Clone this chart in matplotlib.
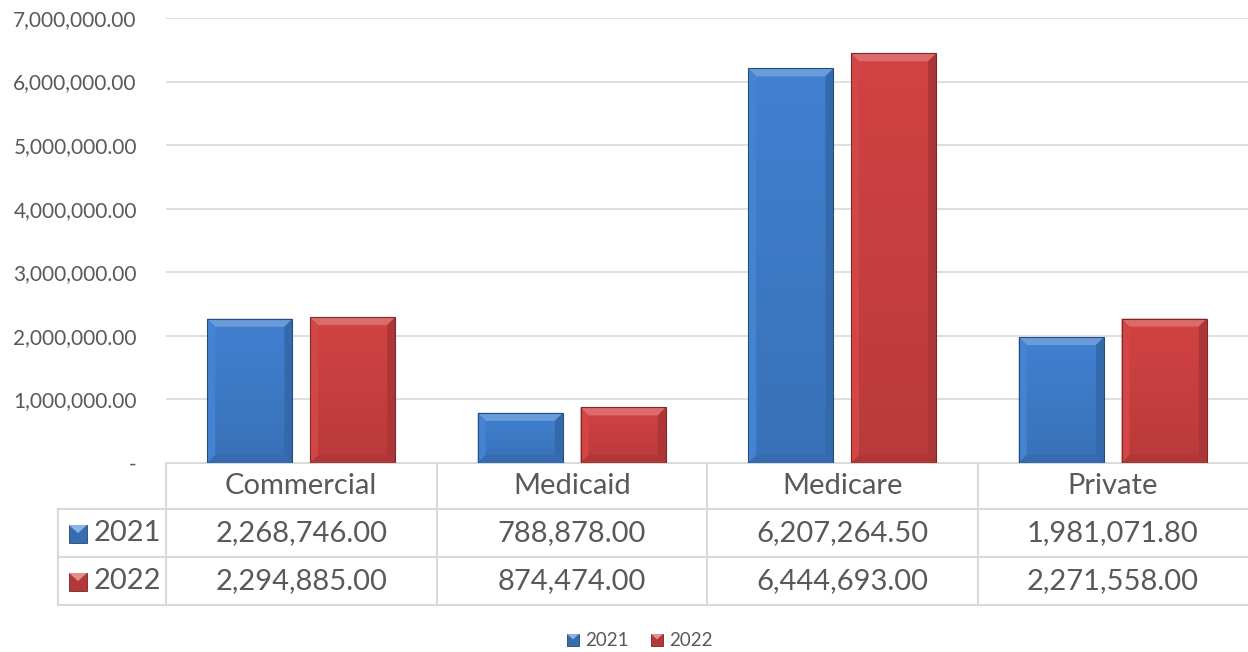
import numpy as np
import matplotlib.pyplot as plt
from matplotlib.patches import Polygon, Rectangle
from matplotlib.colors import to_rgb

# payer categories and yearly totals
categories = ["Commercial", "Medicaid", "Medicare", "Private"]
years = ["2021", "2022"]
vals_2021 = [2268746.00, 788878.00, 6207264.50, 1981071.80]
vals_2022 = [2294885.00, 874474.00, 6444693.00, 2271558.00]
yticks = [0, 1e6, 2e6, 3e6, 4e6, 5e6, 6e6, 7e6]

BLUE = "#4080d0"
RED = "#d24242"
TXT = "#595959"
GRID = "#d9d9d9"

plt.rcParams["font.family"] = ["Lato", "DejaVu Sans"]

W, H = 1248, 652
fig = plt.figure(figsize=(W / 100, H / 100), dpi=100)

# plot area in pixel terms
PL, PR, PT, PB = 166, 1248, 18, 463
ax = fig.add_axes([PL / W, 1 - PB / H, (PR - PL) / W, (PB - PT) / H])

x = np.arange(len(categories))
bw = 0.315
off = 0.19


def shade(c, f):
    r, g, b = to_rgb(c)
    if f > 1:
        return tuple(v + (1 - v) * (f - 1) for v in (r, g, b))
    return (r * f, g * f, b * f)


def bevel_bar(ax, bar, color):
    # soft bevel look: light top edge, darker right/bottom edges
    x0, y0 = bar.get_x(), bar.get_y()
    w, h = bar.get_width(), bar.get_height()
    x1, y1 = x0 + w, y0 + h
    px_x = (ax.get_xlim()[1] - ax.get_xlim()[0]) / ax.bbox.width
    px_y = (ax.get_ylim()[1] - ax.get_ylim()[0]) / ax.bbox.height
    bx, by = min(8 * px_x, w / 3), min(8 * px_y, h / 3)
    # vertical gradient body
    n = 30
    for i in range(n):
        ya = y0 + h * i / n
        yb = y0 + h * (i + 1) / n
        f = 0.88 + 0.12 * (i / (n - 1))
        ax.add_patch(Rectangle((x0, ya), w, yb - ya, facecolor=shade(color, f),
                               edgecolor="none", zorder=3))
    faces = [
        ([(x0, y1), (x1, y1), (x1 - bx, y1 - by), (x0 + bx, y1 - by)], 1.22),
        ([(x0, y0), (x0, y1), (x0 + bx, y1 - by), (x0 + bx, y0 + by)], 1.02),
        ([(x1, y0), (x1, y1), (x1 - bx, y1 - by), (x1 - bx, y0 + by)], 0.82),
        ([(x0, y0), (x1, y0), (x1 - bx, y0 + by), (x0 + bx, y0 + by)], 0.84),
    ]
    for pts, f in faces:
        ax.add_patch(Polygon(pts, closed=True, facecolor=shade(color, f),
                             edgecolor="none", zorder=4))
    ax.add_patch(Rectangle((x0, y0), w, h, facecolor="none",
                           edgecolor=shade(color, 0.6), lw=0.8, zorder=5))


ax.set_xlim(-0.5, len(categories) - 0.5)
ax.set_ylim(0, 7e6)

bars1 = ax.bar(x - off, vals_2021, bw, color="none", zorder=2)
bars2 = ax.bar(x + off, vals_2022, bw, color="none", zorder=2)
fig.canvas.draw()
for b in bars1:
    bevel_bar(ax, b, BLUE)
for b in bars2:
    bevel_bar(ax, b, RED)

ax.set_yticks(yticks)
ax.set_yticklabels(["-" if v == 0 else f"{v:,.2f}" for v in yticks],
                   fontsize=15, color=TXT)
ax.tick_params(axis="y", length=0, pad=21)
ax.set_xticks([])
ax.grid(axis="y", color=GRID, lw=1.2, zorder=0)
for s in ax.spines.values():
    s.set_visible(False)

# data table under the plot, in pixel coordinates
tax = fig.add_axes([0, 0, 1, 1], zorder=-1)
tax.set_xlim(0, W)
tax.set_ylim(H, 0)
tax.axis("off")

rows = [463, 509, 557, 605]
lab_left = 58
colw = (PR - PL) / len(categories)
cols = [PL + i * colw for i in range(len(categories) + 1)]
lc = dict(color=GRID, lw=1.5)

tax.plot([PL, PR], [rows[0]] * 2, **lc)
for r in rows[1:]:
    tax.plot([lab_left, PR], [r, r], **lc)
tax.plot([lab_left, lab_left], [rows[1], rows[3]], **lc)
for c in cols[:-1]:
    tax.plot([c, c], [rows[0], rows[3]], **lc)

TFS = 21
for i, cat in enumerate(categories):
    cx = (cols[i] + cols[i + 1]) / 2
    tax.text(cx, (rows[0] + rows[1]) / 2, cat, ha="center", va="center",
             fontsize=TFS, color=TXT)
    for j, series in enumerate([vals_2021, vals_2022]):
        tax.text(cx, (rows[j + 1] + rows[j + 2]) / 2, f"{series[i]:,.2f}",
                 ha="center", va="center", fontsize=TFS, color=TXT)


def key_box(x0, yc, s, color):
    # small legend key square with a light top triangle
    y0 = yc - s / 2
    tax.add_patch(Rectangle((x0, y0), s, s, facecolor=shade(color, 0.85),
                            edgecolor=shade(color, 0.55), lw=0.6))
    tax.add_patch(Polygon([(x0, y0), (x0 + s, y0), (x0 + s / 2, y0 + s * 0.45)],
                          closed=True, facecolor=shade(color, 1.4),
                          edgecolor="none"))


for j, (yr, col) in enumerate(zip(years, [BLUE, RED])):
    yc = (rows[j + 1] + rows[j + 2]) / 2
    key_box(69, yc + 1, 18, col)
    tax.text(94, yc, yr, ha="left", va="center", fontsize=TFS, color=TXT)

# bottom legend
key_box(567, 640, 12, BLUE)
tax.text(585, 640, years[0], ha="left", va="center", fontsize=13.5, color=TXT)
key_box(651, 640, 12, RED)
tax.text(669, 640, years[1], ha="left", va="center", fontsize=13.5, color=TXT)

fig.savefig("out.png", dpi=100)
